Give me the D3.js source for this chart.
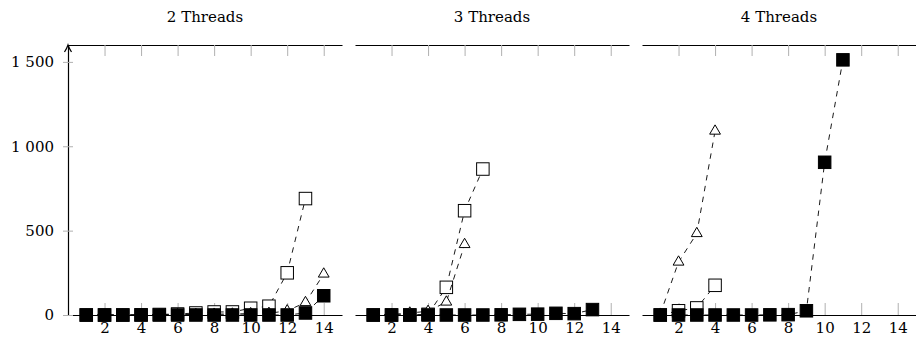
<!DOCTYPE html>
<html>
<head>
<meta charset="utf-8">
<script src="https://cdn.jsdelivr.net/npm/d3@7"></script>
<style>
  body { margin: 0; background: #fff; }
</style>
</head>
<body>
<div class="container"></div>
<script>
const panelTitles = ['2 Threads', '3 Threads', '4 Threads'];
const xTickValues = [2, 4, 6, 8, 10, 12, 14];
const yTickValues = [0, 500, 1000, 1500];
const yTickLabels = ['0', '500', '1 000', '1 500'];

// values start at x = 1
const open2 = [0, 0, 0, 1, 3, 6, 12, 18, 18, 40, 52, 250, 690];
const tri2 = [0, 0, 0, 0, 1, 2, 3, 5, 6, 8, 10, 25, 74, 243];
const filled2 = [0, 0, 0, 0, 0, 0, 0, 0, 0, 0, 0, 0, 12, 114];

const open3 = [0, 0, 0, 4, 164, 618, 865];
const tri3 = [0, 3, 12, 22, 77, 418];
const filled3 = [0, 0, 0, 0, 0, 0, 0, 1, 4, 5, 10, 8, 32];

const open4 = [0, 25, 42, 176];
const tri4 = [5, 314, 483, 1090];
const filled4 = [0, 0, 0, 0, 0, 0, 1, 2, 25, 905, 1512];

const panelData = [
  { open: open2, tri: tri2, filled: filled2 },
  { open: open3, tri: tri3, filled: filled3 },
  { open: open4, tri: tri4, filled: filled4 },
];

const width = 916;
const height = 340;
const leftPadding = 68;
const panelWidth = 274;
const panelStep = 287;
const topY = 45;
const bottomY = 315;
const markSize = 12.5;
const serif = 'DejaVu Serif';

const y = d3.scaleLinear().domain([0, 1600]).range([bottomY, topY]);

const svg = d3.select('.container')
  .append('svg')
  .attr('width', width)
  .attr('height', height);

const toPoints = (arr) => arr.map((v, i) => ({ x: i + 1, v }));

const styleText = (sel) => sel
  .attr('font-size', '15px')
  .attr('font-family', serif)
  .attr('fill', '#000');

panelData.forEach((p, k) => {
  const x0 = leftPadding + k * panelStep;
  const x = d3.scaleLinear().domain([0, 15]).range([x0, x0 + panelWidth]);

  svg.append('text')
    .attr('x', x0 + panelWidth / 2)
    .attr('y', 22)
    .attr('text-anchor', 'middle')
    .call(styleText)
    .text(panelTitles[k]);

  // top frame line with inward ticks
  const top = svg.append('g')
    .attr('transform', `translate(0, ${topY})`)
    .call(d3.axisTop(x).tickValues(xTickValues).tickSize(-11).tickSizeOuter(0).tickFormat(''));

  // bottom axis at y = 0
  const bottom = svg.append('g')
    .attr('transform', `translate(0, ${bottomY})`)
    .call(d3.axisBottom(x).tickValues(xTickValues).tickSize(-12).tickSizeOuter(0).tickPadding(7));

  [top, bottom].forEach((g) => {
    g.attr('font-family', serif);
    g.select('.domain').attr('stroke', '#000').attr('stroke-width', 1.2);
    g.selectAll('.tick line').attr('stroke', '#b0b0b0').attr('stroke-width', 1);
    g.selectAll('.tick text').call(styleText);
  });

  if (k === 0) {
    const left = svg.append('g')
      .attr('transform', `translate(${x0}, 0)`)
      .call(d3.axisLeft(y).tickValues(yTickValues).tickSize(5).tickSizeOuter(0).tickPadding(9)
        .tickFormat((d, i) => yTickLabels[i]))
      .attr('font-family', serif);
    left.select('.domain').attr('stroke', '#000').attr('stroke-width', 1.2);
    left.selectAll('.tick line')
      .attr('x1', -5).attr('x2', 5)
      .attr('stroke', '#b0b0b0').attr('stroke-width', 1);
    left.selectAll('.tick text').call(styleText);
    left.append('path')
      .attr('d', `M-3.5,${topY + 7} Q-1,${topY + 3} 0,${topY} Q1,${topY + 3} 3.5,${topY + 7}`)
      .attr('fill', 'none')
      .attr('stroke', '#000')
      .attr('stroke-width', 1.2);
  }

  const line = d3.line().x((d) => x(d.x)).y((d) => y(d.v));
  const series = [
    { pts: toPoints(p.open), type: 'open' },
    { pts: toPoints(p.tri), type: 'tri' },
    { pts: toPoints(p.filled), type: 'filled' },
  ];

  series.forEach((s) => {
    const g = svg.append('g');
    g.append('path')
      .attr('d', line(s.pts))
      .attr('fill', 'none')
      .attr('stroke', '#000')
      .attr('stroke-width', 0.9)
      .attr('stroke-dasharray', '5.5,5.5');

    if (s.type === 'tri') {
      g.selectAll('path.mark')
        .data(s.pts)
        .enter()
        .append('path')
        .attr('class', 'mark')
        .attr('transform', (d) => `translate(${x(d.x)}, ${y(d.v)})`)
        .attr('d', 'M0,-6.2L5.4,3.1L-5.4,3.1Z')
        .attr('fill', '#fff')
        .attr('stroke', '#000')
        .attr('stroke-width', 1);
    } else {
      g.selectAll('rect')
        .data(s.pts)
        .enter()
        .append('rect')
        .attr('x', (d) => x(d.x) - markSize / 2)
        .attr('y', (d) => y(d.v) - markSize / 2)
        .attr('width', markSize)
        .attr('height', markSize)
        .attr('fill', s.type === 'filled' ? '#000' : '#fff')
        .attr('stroke', '#000')
        .attr('stroke-width', 1);
    }
  });
});
</script>
</body>
</html>
